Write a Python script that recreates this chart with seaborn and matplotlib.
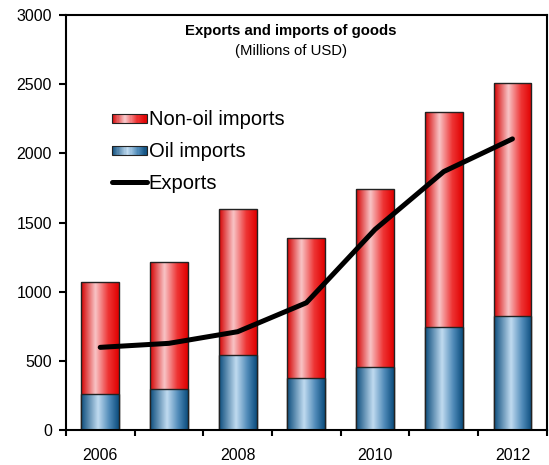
import numpy as np
import pandas as pd
import matplotlib
matplotlib.use("Agg")
import matplotlib.pyplot as plt
import seaborn as sns
from matplotlib.colors import LinearSegmentedColormap
from matplotlib.legend_handler import HandlerBase
from matplotlib.patches import Rectangle, Patch
from matplotlib.lines import Line2D

years = ["2006", "2007", "2008", "2009", "2010", "2011", "2012"]
oil_imports = [258, 296, 542, 378, 458, 747, 827]
total_imports = [1072, 1217, 1598, 1386, 1740, 2297, 2509]
non_oil_imports = [t - o for t, o in zip(total_imports, oil_imports)]
exports = [598, 627, 711, 920, 1450, 1868, 2104]
tick_labels = ["2006", "", "2008", "", "2010", "", "2012"]

sns.set_theme(style="white")
plt.rcParams["font.family"] = ["Liberation Sans", "DejaVu Sans"]
plt.rcParams["text.color"] = "black"
plt.rcParams["xtick.color"] = "black"
plt.rcParams["ytick.color"] = "black"

red_cmap = LinearSegmentedColormap.from_list(
    "red", [(0, "#d40000"), (0.38, "#f8c4c6"), (0.72, "#ee3434"), (1, "#e00000")])
blue_cmap = LinearSegmentedColormap.from_list(
    "blue", [(0, "#0b4c7c"), (0.45, "#c0dbf0"), (0.75, "#4f8ab8"), (1, "#0b4c7c")])

df = pd.DataFrame({"year": years, "total": total_imports, "oil": oil_imports,
                   "nonoil": non_oil_imports, "exports": exports})

fig = plt.figure(figsize=(5.49, 4.65), dpi=100)
ax = fig.add_axes([0.120, 0.075, 0.876, 0.893])

sns.barplot(data=df, x="year", y="total", color="#e00000", width=0.55,
            ax=ax, edgecolor="#222222", linewidth=1.0, saturation=1)
n_red = len(ax.patches)
sns.barplot(data=df, x="year", y="oil", color="#0b4c7c", width=0.55,
            ax=ax, edgecolor="#222222", linewidth=1.0, saturation=1)

grad = np.linspace(0, 1, 256).reshape(1, -1)
for i, p in enumerate(ax.patches):
    cmap = red_cmap if i < n_red else blue_cmap
    x0, y0 = p.get_x(), p.get_y()
    w, h = p.get_width(), p.get_height()
    im = ax.imshow(grad, cmap=cmap, aspect="auto", extent=(x0, x0 + w, y0, y0 + h),
                   zorder=1 + (0.2 if i >= n_red else 0), interpolation="bilinear")
    im.set_clip_path(p)
    p.set_facecolor("none")
    p.set_zorder(1.1 if i < n_red else 1.3)

sns.lineplot(x=np.arange(len(years)), y=exports, color="black", linewidth=3.6,
             ax=ax, zorder=3, solid_capstyle="round")

ax.set_xlim(-0.5, 6.5)
ax.set_ylim(0, 3000)
ax.set_yticks(range(0, 3001, 500))
ax.set_xticks(np.arange(-0.5, 7, 1))
ax.set_xticklabels([])
ax.set_xticks(np.arange(7), minor=True)
ax.set_xticklabels(tick_labels, minor=True)
ax.tick_params(axis="x", which="major", bottom=True, direction="out", length=4, width=1.5, color="black")
ax.tick_params(axis="x", which="minor", bottom=False, length=0, pad=13, labelsize=11.5)
ax.tick_params(axis="y", left=True, direction="out", length=5, width=1.5, color="black", labelsize=11.5, pad=5)
ax.set_xlabel("")
ax.set_ylabel("")
for s in ax.spines.values():
    s.set_color("black")
    s.set_linewidth(1.5)

ax.text(0.468, 0.961, "Exports and imports of goods", transform=ax.transAxes,
        ha="center", va="center", fontsize=10.7, fontweight="bold")
ax.text(0.468, 0.913, "(Millions of USD)", transform=ax.transAxes,
        ha="center", va="center", fontsize=10.7)


class GradHandler(HandlerBase):
    def __init__(self, cmap):
        super().__init__()
        self.cmap = cmap

    def create_artists(self, legend, orig_handle, xdescent, ydescent, width, height, fontsize, trans):
        arts = []
        n = 30
        hh = height * 0.65
        y0 = -ydescent + (height - hh) / 2
        for k in range(n):
            r = Rectangle((-xdescent + width * k / n, y0), width / n + 0.3, hh,
                          facecolor=self.cmap((k + 0.5) / n), edgecolor="none", transform=trans)
            arts.append(r)
        arts.append(Rectangle((-xdescent, y0), width, hh, facecolor="none",
                              edgecolor="#222222", linewidth=0.8, transform=trans))
        return arts


h_red = Patch(label="Non-oil imports")
h_blue = Patch(label="Oil imports")
h_line = Line2D([], [], color="black", linewidth=3.6, label="Exports")
ax.legend(handles=[h_red, h_blue, h_line],
          handler_map={h_red: GradHandler(red_cmap), h_blue: GradHandler(blue_cmap)},
          loc="upper left", bbox_to_anchor=(0.095, 0.77), frameon=False,
          fontsize=14.5, labelspacing=0.64, handlelength=1.75, handletextpad=0.1,
          borderaxespad=0, borderpad=0)

fig.savefig("out.png", dpi=100)
